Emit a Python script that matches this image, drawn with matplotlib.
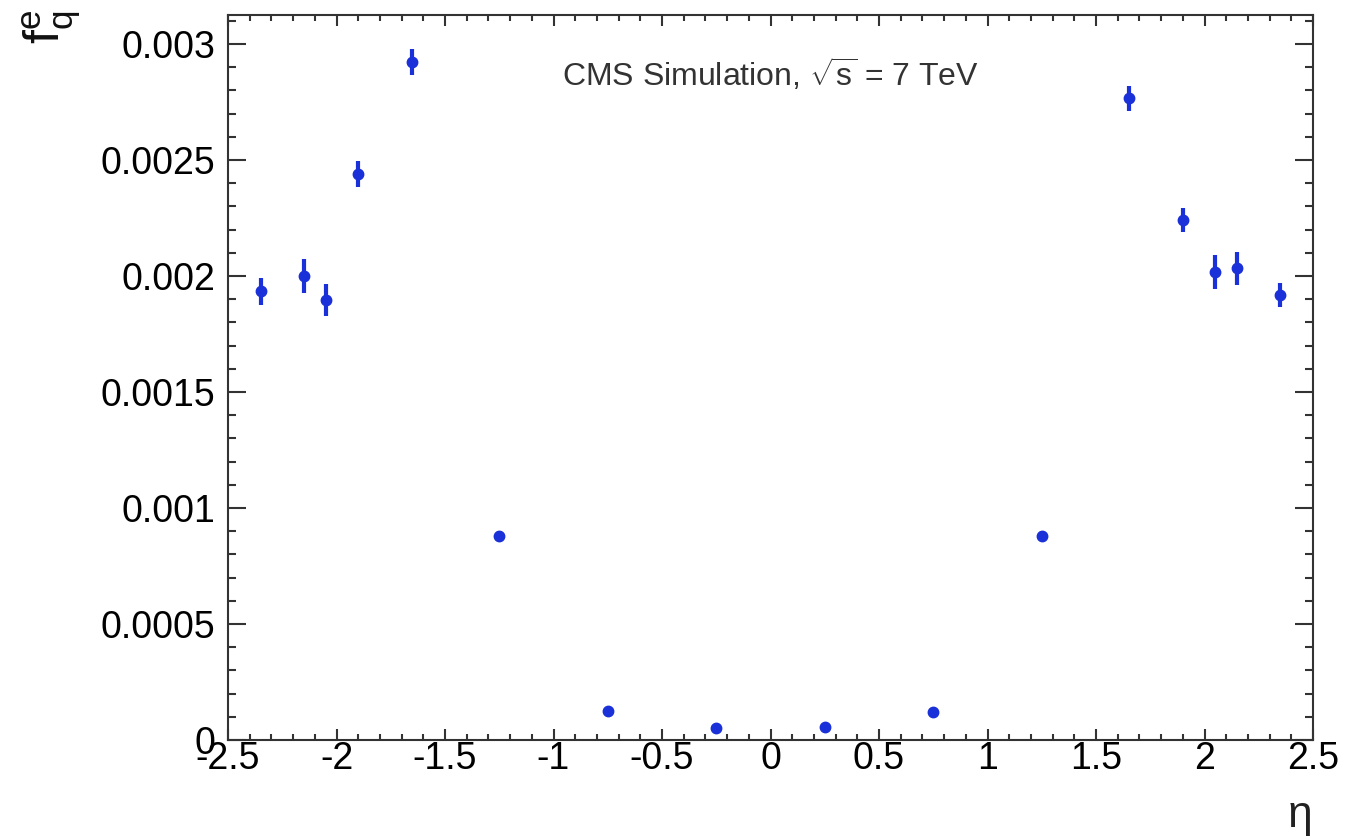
import matplotlib
matplotlib.use("Agg")
import matplotlib.pyplot as plt
from matplotlib.ticker import MultipleLocator

plt.rcParams['font.family'] = ['Liberation Sans', 'DejaVu Sans']
plt.rcParams['mathtext.fontset'] = 'custom'
plt.rcParams['mathtext.rm'] = 'Liberation Sans'
plt.rcParams['mathtext.it'] = 'Liberation Sans'

eta = [-2.35, -2.15, -2.05, -1.9, -1.65, -1.25, -0.75, -0.25,
       0.25, 0.75, 1.25, 1.65, 1.9, 2.05, 2.15, 2.35]
fq = [0.001935, 0.00200, 0.001897, 0.00244, 0.002922, 0.000879, 0.000125, 0.000052,
      0.000056, 0.00012, 0.00088, 0.002767, 0.002241, 0.002017, 0.002034, 0.001918]
err = [0.000058, 0.000075, 0.00007, 0.000056, 0.000056, 0.00002, 0.00001, 0.000008,
       0.000008, 0.00001, 0.00002, 0.000054, 0.000052, 0.000073, 0.000071, 0.00005]

fig = plt.figure(figsize=(13.45, 8.4), dpi=100)
ax = fig.add_axes([228/1345, 1-740/840, (1313-228)/1345, (740-15)/840])

color = '#1a30d8'
ax.errorbar(eta, fq, yerr=err, fmt='o', color=color, ms=7.5, elinewidth=3, capsize=0,
            mec=color, mfc=color)

ax.set_xlim(-2.5, 2.5)
ax.set_ylim(0, 0.003125)
ax.xaxis.set_major_locator(MultipleLocator(0.5))
ax.xaxis.set_minor_locator(MultipleLocator(0.1))
ax.yaxis.set_major_locator(MultipleLocator(0.0005))
ax.yaxis.set_minor_locator(MultipleLocator(0.0001))
ax.tick_params(which='both', direction='in', top=True, right=True, width=1.5, color='#333333')
ax.tick_params(axis='y', which='major', length=13)
ax.tick_params(axis='x', which='major', length=8)
ax.tick_params(axis='y', which='minor', length=6)
ax.tick_params(axis='x', which='minor', length=4)
ax.tick_params(axis='both', labelsize=27)
ax.tick_params(axis='y', pad=9)
ax.tick_params(axis='x', pad=1)

xt = [-2.5, -2, -1.5, -1, -0.5, 0, 0.5, 1, 1.5, 2, 2.5]
ax.set_xticks(xt)
ax.set_xticklabels(['-2.5', '-2', '-1.5', '-1', '-0.5', '0', '0.5', '1', '1.5', '2', '2.5'])
yt = [0, 0.0005, 0.001, 0.0015, 0.002, 0.0025, 0.003]
ax.set_yticks(yt)
ax.set_yticklabels(['0', '0.0005', '0.001', '0.0015', '0.002', '0.0025', '0.003'])

for s in ax.spines.values():
    s.set_linewidth(1.5)
    s.set_color('#333333')

ax.text(0.5, 0.918, r'CMS Simulation, $\sqrt{\mathrm{s}}$ = 7 TeV', transform=ax.transAxes,
        ha='center', va='center', fontsize=23, color='#333333')

fig.text(52/1345, 1-10/840, r'f$_{\mathrm{q}}^{\mathrm{e}}$', rotation=90, ha='center', va='top',
         fontsize=36, color='#111111')
fig.text(1300/1345, 1-815/840, 'η', ha='center', va='center', fontsize=32, color='#222222')

fig.savefig('out.png', dpi=100)
